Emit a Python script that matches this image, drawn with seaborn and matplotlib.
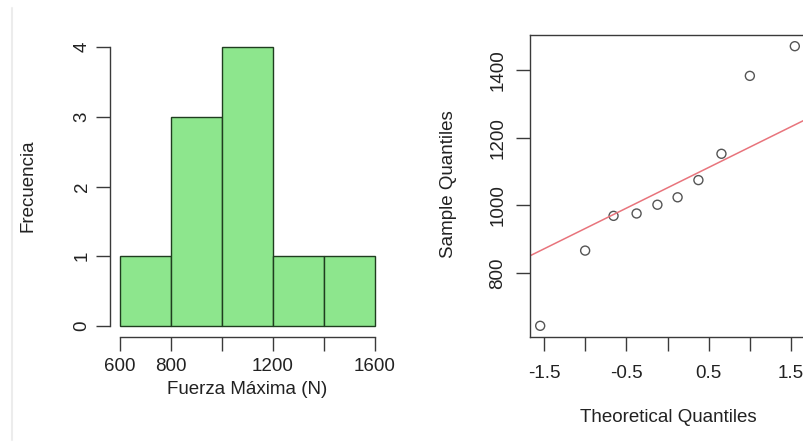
import numpy as np
import pandas as pd
import seaborn as sns
import matplotlib.pyplot as plt
from matplotlib.lines import Line2D
from statistics import NormalDist

# Fuerza maxima (N)
fuerza = [643, 866, 969, 976, 1002, 1024, 1075, 1153, 1384, 1472]
bin_edges = [600, 800, 1000, 1200, 1400, 1600]
hist_xticks = [600, 800, 1000, 1200, 1400, 1600]
hist_xlabels = ["600", "800", "", "1200", "", "1600"]
hist_yticks = [0, 1, 2, 3, 4]
qq_xticks = [-1.5, -1.0, -0.5, 0.0, 0.5, 1.0, 1.5]
qq_xlabels = ["-1.5", "", "-0.5", "", "0.5", "", "1.5"]
qq_yticks = [800, 1000, 1200, 1400]

sns.set_theme(style="white")
plt.rcParams["font.family"] = ["Liberation Sans", "DejaVu Sans"]
FS = 13.5
AXC = "#3a3a3a"

W, H = 804, 445
fig = plt.figure(figsize=(W / 100, H / 100), dpi=100)
fig.patch.set_facecolor("white")


def px_axes(x0, y0, x1, y1):
    return fig.add_axes([x0 / W, 1 - y1 / H, (x1 - x0) / W, (y1 - y0) / H])


# ---- Histogram ----
ax1 = px_axes(110, 36, 385, 337)
df = pd.DataFrame({"fuerza": fuerza})
sns.histplot(data=df, x="fuerza", bins=bin_edges, color="#8de68d", alpha=1,
             edgecolor="#1f3d1f", linewidth=1.0, ax=ax1)
ax1.set_xlim(560, 1640)
ax1.set_ylim(-0.16, 4.16)
ax1.set_xticks(hist_xticks)
ax1.set_xticklabels(hist_xlabels)
ax1.set_yticks(hist_yticks)
ax1.set_yticklabels([str(t) for t in hist_yticks], rotation=90, va="center")
ax1.set_xlabel("")
ax1.set_ylabel("")
for s in ["top", "right"]:
    ax1.spines[s].set_visible(False)
ax1.spines["left"].set_bounds(0, 4)
ax1.spines["bottom"].set_bounds(600, 1600)
for s in ["left", "bottom"]:
    ax1.spines[s].set_color(AXC)
    ax1.spines[s].set_linewidth(1.0)
ax1.tick_params(axis="both", direction="out", length=10, width=1.0, color=AXC,
                labelsize=FS, labelcolor="#222222", bottom=True, left=True)
ax1.tick_params(axis="x", pad=5)
ax1.tick_params(axis="y", pad=4)
ax1.patch.set_alpha(0)

# ---- Normal Q-Q plot ----
n = len(fuerza)
a = 3 / 8 if n <= 10 else 0.5
probs = [(i - a) / (n + 1 - 2 * a) for i in range(1, n + 1)]
theo = [NormalDist().inv_cdf(p) for p in probs]
sample = sorted(fuerza)
qdf = pd.DataFrame({"theo": theo, "sample": sample})

q1, q3 = np.percentile(sample, [25, 75])
z1, z3 = NormalDist().inv_cdf(0.25), NormalDist().inv_cdf(0.75)
slope = (q3 - q1) / (z3 - z1)
intercept = q1 - slope * z1

ax2 = px_axes(530, 35, 805, 337)
sns.scatterplot(data=qdf, x="theo", y="sample", marker="o", s=42,
                facecolors="none", edgecolor="#555555", linewidth=1.0, ax=ax2)
ax2.axline((0, intercept), slope=slope, color="#e8747c", lw=1.1, zorder=1)
xr = max(theo) - min(theo)
yr = max(sample) - min(sample)
ax2.set_xlim(min(theo) - 0.04 * xr, max(theo) + 0.04 * xr)
ax2.set_ylim(min(sample) - 0.04 * yr, max(sample) + 0.04 * yr)
ax2.set_xticks(qq_xticks)
ax2.set_xticklabels(qq_xlabels)
ax2.set_yticks(qq_yticks)
ax2.set_yticklabels([str(t) for t in qq_yticks], rotation=90, va="center")
ax2.set_xlabel("")
ax2.set_ylabel("")
for s in ax2.spines.values():
    s.set_color(AXC)
    s.set_linewidth(1.0)
ax2.tick_params(axis="both", direction="out", length=10, width=1.0, color=AXC,
                labelsize=FS, labelcolor="#222222", bottom=True, left=True)
ax2.tick_params(axis="x", pad=10)
ax2.tick_params(axis="y", pad=7)

# axis titles, placed like R's margin text
fig.text(247 / W, 1 - 389 / H, "Fuerza Máxima (N)", ha="center", va="center",
         fontsize=FS, color="#222222")
fig.text(28 / W, 1 - 186 / H, "Frecuencia", ha="center", va="center",
         rotation=90, fontsize=FS, color="#222222")
fig.text(668 / W, 1 - 418 / H, "Theoretical Quantiles", ha="center", va="center",
         fontsize=FS, color="#222222")
fig.text(449 / W, 1 - 184 / H, "Sample Quantiles", ha="center", va="center",
         rotation=90, fontsize=FS, color="#222222")

# faint window border on the left
fig.add_artist(Line2D([12 / W, 12 / W], [1 - 8 / H, 1 - 440 / H],
                      color="#ececec", lw=1.5))

fig.savefig("out.png", dpi=100)
